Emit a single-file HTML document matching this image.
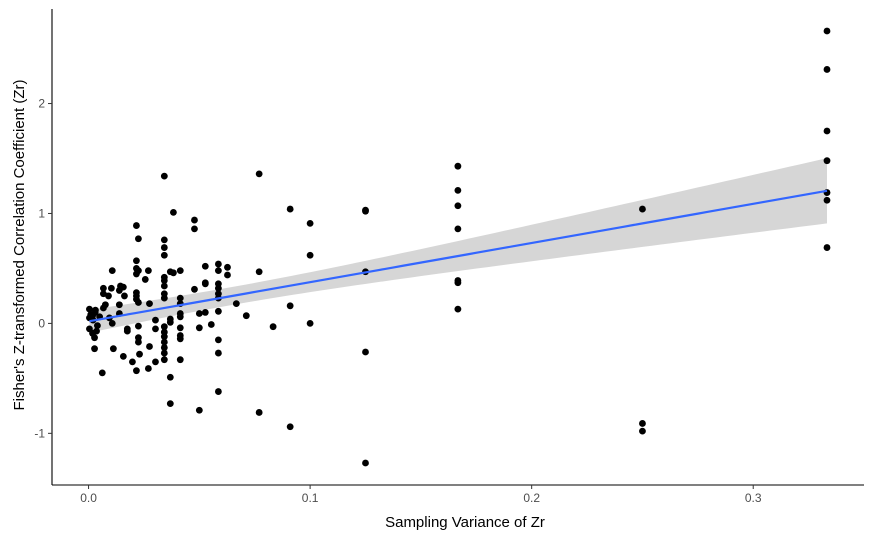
<!DOCTYPE html>
<html><head><meta charset="utf-8"><style>
body{margin:0;background:#fff;}
svg{display:block;font-family:"Liberation Sans",sans-serif;}
</style></head><body>
<svg id="chart" width="875" height="540">
<g id="band"></g>
<g id="pts"></g>
<g id="fit"></g>
<g id="axes"></g>
<text x="465" y="527" text-anchor="middle" font-size="15" fill="#000">Sampling Variance of Zr</text>
<text transform="translate(24,245) rotate(-90)" text-anchor="middle" font-size="15" fill="#000">Fisher's Z-transformed Correlation Coefficient (Zr)</text>
</svg>
<script>
const xVals=[0.0342,0.0383,0.0478,0.0478,0.0216,0.0225,0.0342,0.0342,0.0342,0.0216,0.0216,0.0225,0.0216,0.0107,0.027,0.0256,0.0527,0.0586,0.0586,0.0627,0.0627,0.0369,0.0383,0.0414,0.0342,0.0342,0.0342,0.0342,0.0342,0.0478,0.0527,0.0527,0.0586,0.0586,0.0586,0.0586,0.0414,0.0414,0.0067,0.0067,0.0103,0.009,0.0144,0.0157,0.0139,0.0162,0.0216,0.0216,0.0216,0.0225,0.0275,0.0076,0.0067,0.0139,0.0139,0.0107,0.0094,0.0004,0.0031,0.0018,0.0004,0.0004,0.0018,0.0027,0.0027,0.0036,0.0062,0.0112,0.0157,0.0175,0.0175,0.0198,0.0216,0.0225,0.0225,0.023,0.0225,0.0275,0.027,0.0302,0.0302,0.0302,0.0342,0.0342,0.0342,0.0342,0.0342,0.0342,0.0342,0.0369,0.0369,0.0369,0.0369,0.0414,0.0414,0.0414,0.0414,0.0414,0.0414,0.05,0.05,0.05,0.0527,0.0554,0.0586,0.0586,0.0586,0.0586,0.0667,0.0712,0.077,0.077,0.077,0.091,0.091,0.091,0.0833,0.1,0.1,0.1,0.125,0.125,0.125,0.125,0.125,0.1667,0.1667,0.1667,0.1667,0.1667,0.1667,0.1667,0.25,0.25,0.25,0.3333,0.3333,0.3333,0.3333,0.3333,0.3333,0.3333,0.001,0.002,0.004,0.003,0.005];
const yVals=[1.34,1.01,0.94,0.86,0.89,0.77,0.76,0.69,0.62,0.57,0.5,0.48,0.45,0.48,0.48,0.4,0.52,0.54,0.48,0.51,0.44,0.47,0.46,0.48,0.42,0.39,0.34,0.27,0.23,0.31,0.37,0.36,0.36,0.32,0.27,0.23,0.23,0.18,0.32,0.27,0.32,0.25,0.34,0.33,0.3,0.25,0.28,0.25,0.22,0.19,0.18,0.17,0.14,0.17,0.09,0.0,0.05,0.13,0.12,0.07,0.05,-0.05,-0.09,-0.13,-0.23,-0.07,-0.45,-0.23,-0.3,-0.05,-0.07,-0.35,-0.43,-0.13,-0.17,-0.28,-0.025,-0.21,-0.41,-0.35,0.03,-0.05,-0.03,-0.08,-0.12,-0.17,-0.22,-0.27,-0.33,-0.49,-0.73,0.04,0.01,0.09,0.06,-0.04,-0.11,-0.14,-0.33,0.09,-0.04,-0.79,0.1,-0.01,0.11,-0.15,-0.27,-0.62,0.18,0.07,-0.81,1.36,0.47,1.04,0.16,-0.94,-0.03,0.91,0.62,0.0,1.03,1.02,0.47,-0.26,-1.27,1.43,1.21,1.07,0.86,0.39,0.37,0.13,1.04,-0.91,-0.98,2.66,2.31,1.75,1.48,1.19,1.12,0.69,0.08,0.03,-0.02,0.1,0.06];
const xTicks=[0,0.1,0.2,0.3];
const xTickLabels=["0.0","0.1","0.2","0.3"];
const yTicks=[-1,0,1,2];
const yTickLabels=["-1","0","1","2"];

const NS="http://www.w3.org/2000/svg";
const L=52,R=864,T=9,B=485;
const xmin=-0.0165,xmax=0.35,ymin=-1.47,ymax=2.86;
const sx=v=>L+(v-xmin)/(xmax-xmin)*(R-L);
const sy=v=>B-(v-ymin)/(ymax-ymin)*(B-T);
function mk(tag,attrs,parent){const e=document.createElementNS(NS,tag);for(const k in attrs)e.setAttribute(k,attrs[k]);parent.appendChild(e);return e;}

// OLS fit
const n=xVals.length;
const xb=xVals.reduce((a,b)=>a+b,0)/n, yb=yVals.reduce((a,b)=>a+b,0)/n;
let sxx=0,sxy=0;for(let i=0;i<n;i++){sxx+=(xVals[i]-xb)**2;sxy+=(xVals[i]-xb)*(yVals[i]-yb);}
const b1=sxy/sxx,b0=yb-b1*xb;
let sse=0;for(let i=0;i<n;i++){sse+=(yVals[i]-b0-b1*xVals[i])**2;}
const s=Math.sqrt(sse/(n-2)),t=1.976;
const x0=Math.min(...xVals),x1=Math.max(...xVals);
const up=[],lo=[],mid=[];
for(let k=0;k<=80;k++){const x=x0+(x1-x0)*k/80;const yh=b0+b1*x;const se=s*Math.sqrt(1/n+(x-xb)**2/sxx);
up.push(sx(x)+","+sy(yh+t*se));lo.unshift(sx(x)+","+sy(yh-t*se));mid.push(sx(x)+","+sy(yh));}
const band=mk("polygon",{points:up.concat(lo).join(" "),fill:"#999",opacity:"0.4"},document.getElementById("band"));



const pg=document.getElementById("pts");
for(let i=0;i<n;i++){const c=mk("circle",{cx:sx(xVals[i]),cy:sy(yVals[i]),r:3.4,fill:"#000"},pg);

}

const ln=mk("polyline",{points:mid.join(" "),fill:"none",stroke:"#3366FF","stroke-width":2.2},document.getElementById("fit"));



const ax=document.getElementById("axes");
const xa=mk("line",{x1:L,y1:B,x2:R,y2:B,stroke:"#000","stroke-width":1.1},ax);


const ya=mk("line",{x1:L,y1:T,x2:L,y2:B,stroke:"#000","stroke-width":1.1},ax);


xTicks.forEach((v,i)=>{const x=sx(v);
mk("line",{x1:x,y1:B,x2:x,y2:B+4,stroke:"#333"},ax);
const tx=mk("text",{x:x,y:B+17,"text-anchor":"middle","font-size":"12",fill:"#4d4d4d"},ax);tx.textContent=xTickLabels[i];

});
yTicks.forEach((v,i)=>{const y=sy(v);
mk("line",{x1:L-4,y1:y,x2:L,y2:y,stroke:"#333"},ax);
const tx=mk("text",{x:L-7,y:y+4,"text-anchor":"end","font-size":"12",fill:"#4d4d4d"},ax);tx.textContent=yTickLabels[i];

});
</script>
</body></html>
